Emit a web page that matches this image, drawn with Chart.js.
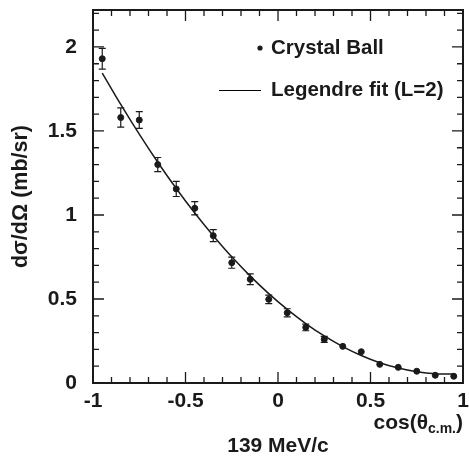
<!DOCTYPE html>
<html>
<head>
<meta charset="utf-8">
<script src="https://cdn.jsdelivr.net/npm/chart.js@4"></script>
<style>
  html, body { margin: 0; padding: 0; background: #fff; }
  #wrap { width: 469px; height: 457px; }
</style>
</head>
<body>
<div id="wrap"><canvas id="xsChart" width="469" height="457"></canvas></div>
<script>
// cos(theta_cm) bin centres
var cosTheta = [-0.95, -0.85, -0.75, -0.65, -0.55, -0.45, -0.35, -0.25, -0.15, -0.05,
                0.05, 0.15, 0.25, 0.35, 0.45, 0.55, 0.65, 0.75, 0.85, 0.95];
// Crystal Ball dsigma/dOmega (mb/sr) and errors
var xsValues = [1.93, 1.58, 1.565, 1.30, 1.155, 1.04, 0.877, 0.716, 0.617, 0.498,
                0.418, 0.331, 0.26, 0.218, 0.186, 0.111, 0.093, 0.07, 0.046, 0.04];
var xsErrors = [0.062, 0.057, 0.05, 0.042, 0.045, 0.039, 0.036, 0.033, 0.032, 0.025,
                0.024, 0.02, 0.018, 0.014, 0.01, 0.01, 0.008, 0.008, 0.008, 0.008];
// Legendre fit curve
var fitX = [-0.95, -0.85, -0.75, -0.65, -0.55, -0.45, -0.35, -0.25, -0.15, -0.05,
            0.05, 0.15, 0.25, 0.35, 0.45, 0.55, 0.65, 0.75, 0.85, 0.95];
var fitY = [1.845, 1.658, 1.481, 1.314, 1.158, 1.012, 0.877, 0.751, 0.636, 0.532,
            0.438, 0.354, 0.280, 0.217, 0.164, 0.121, 0.089, 0.067, 0.055, 0.054];

var pointData = cosTheta.map(function (c, i) { return { x: c, y: xsValues[i] }; });
var fitData = fitX.map(function (c, i) { return { x: c, y: fitY[i] }; });

// plain number labels: 2, 1.5, 1, -0.5 ...
function plainTick(value) {
  return String(Math.round(value * 10) / 10);
}

// frame, inner ticks, error bars, legend and the cos label
var decorations = {
  id: 'decorations',
  beforeDatasetsDraw: function (chart) {
    var ctx = chart.ctx;
    var xs = chart.scales.x, ys = chart.scales.y;
    var ca = chart.chartArea;
    ctx.save();
    ctx.strokeStyle = '#1a1a1a';

    // error bars
    ctx.lineWidth = 1.2;
    cosTheta.forEach(function (c, i) {
      var px = xs.getPixelForValue(c);
      var top = ys.getPixelForValue(xsValues[i] + xsErrors[i]);
      var bot = ys.getPixelForValue(xsValues[i] - xsErrors[i]);
      if (bot - top < 6) return;
      ctx.beginPath();
      ctx.moveTo(px, top); ctx.lineTo(px, bot);
      ctx.moveTo(px - 3.5, top); ctx.lineTo(px + 3.5, top);
      ctx.moveTo(px - 3.5, bot); ctx.lineTo(px + 3.5, bot);
      ctx.stroke();
    });

    // tick marks on all four sides, pointing inwards
    ctx.lineWidth = 1.3;
    ctx.beginPath();
    for (var k = 0; k <= 20; k++) {
      var v = -1 + k * 0.1;
      var px = xs.getPixelForValue(v);
      var len = (k % 5 === 0) ? 11 : 6;
      ctx.moveTo(px, ca.bottom); ctx.lineTo(px, ca.bottom - len);
      ctx.moveTo(px, ca.top); ctx.lineTo(px, ca.top + len);
    }
    for (var j = 0; j <= 22; j++) {
      var vy = j * 0.1;
      var py = ys.getPixelForValue(vy);
      var ly = (j % 5 === 0) ? 11 : 6;
      ctx.moveTo(ca.left, py); ctx.lineTo(ca.left + ly, py);
      ctx.moveTo(ca.right, py); ctx.lineTo(ca.right - ly, py);
    }
    ctx.stroke();

    // frame
    ctx.lineWidth = 2;
    ctx.strokeRect(ca.left, ca.top, ca.right - ca.left, ca.bottom - ca.top);

    // legend
    ctx.fillStyle = '#1a1a1a';
    ctx.beginPath();
    ctx.arc(260, 48, 2.6, 0, Math.PI * 2);
    ctx.fill();
    ctx.strokeStyle = '#000';
    ctx.lineWidth = 1.2;
    ctx.beginPath();
    ctx.moveTo(219, 90.5); ctx.lineTo(261, 90.5);
    ctx.stroke();
    ctx.font = 'bold 20.5px "Liberation Sans", Arial, sans-serif';
    ctx.textBaseline = 'middle';
    ctx.textAlign = 'left';
    ctx.fillText('Crystal Ball', 271, 48);
    ctx.fillText('Legendre fit (L=2)', 271, 90);

    // cos(theta_c.m.) label, right aligned to the frame
    var big = 'bold 21px "Liberation Sans", Arial, sans-serif';
    var small = 'bold 14px "Liberation Sans", Arial, sans-serif';
    ctx.textBaseline = 'alphabetic';
    ctx.font = big;
    var w1 = ctx.measureText('cos(\u03b8').width;
    var w3 = ctx.measureText(')').width;
    ctx.font = small;
    var w2 = ctx.measureText('c.m.').width;
    var x0 = ca.right - (w1 + w2 + w3);
    ctx.font = big;
    ctx.fillText('cos(\u03b8', x0, 429);
    ctx.font = small;
    ctx.fillText('c.m.', x0 + w1, 433);
    ctx.font = big;
    ctx.fillText(')', x0 + w1 + w2, 429);
    ctx.restore();
  }
};

var ctx = document.getElementById('xsChart').getContext('2d');
var xsChart = new Chart(ctx, {
  type: 'scatter',
  data: {
    datasets: [
      {
        label: 'Legendre fit (L=2)',
        type: 'line',
        data: fitData,
        borderColor: '#1a1a1a',
        borderWidth: 1.5,
        pointRadius: 0,
        tension: 0.4,
        fill: false
      },
      {
        label: 'Crystal Ball',
        data: pointData,
        backgroundColor: '#1a1a1a',
        borderColor: '#1a1a1a',
        pointRadius: 3,
        pointHoverRadius: 3
      }
    ]
  },
  options: {
    responsive: false,
    animation: false,
    layout: { padding: { top: 10, right: 6, left: 0, bottom: 0 } },
    plugins: {
      legend: { display: false },
      tooltip: { enabled: false }
    },
    scales: {
      x: {
        type: 'linear',
        min: -1,
        max: 1,
        afterFit: function (scale) {
          scale.height = 74;
          scale.paddingLeft = 0;
          scale.paddingRight = 0;
        },
        grid: { display: false, drawTicks: false },
        border: { display: false },
        ticks: {
          stepSize: 0.5, padding: 6, color: '#1a1a1a', callback: plainTick,
          font: { family: '"Liberation Sans", Arial', size: 21, weight: 'bold' }
        },
        title: {
          display: true,
          text: '139 MeV/c',
          color: '#1a1a1a',
          padding: { top: 0, bottom: 0 },
          font: { family: '"Liberation Sans", Arial', size: 21, weight: 'bold', lineHeight: 1 }
        }
      },
      y: {
        min: 0,
        max: 2.22,
        afterFit: function (scale) {
          scale.width = 93;
          scale.paddingTop = 0;
          scale.paddingBottom = 0;
        },
        grid: { display: false, drawTicks: false },
        border: { display: false },
        ticks: {
          stepSize: 0.5, includeBounds: false, padding: 16, color: '#1a1a1a', callback: plainTick,
          font: { family: '"Liberation Sans", Arial', size: 21, weight: 'bold' }
        },
        title: {
          display: true,
          text: 'd\u03c3/d\u03a9 (mb/sr)',
          color: '#1a1a1a',
          padding: { top: 8, bottom: 0 },
          font: { family: '"Liberation Sans", Arial', size: 21.5, weight: 'bold' }
        }
      }
    }
  },
  plugins: [decorations]
});
</script>
</body>
</html>
